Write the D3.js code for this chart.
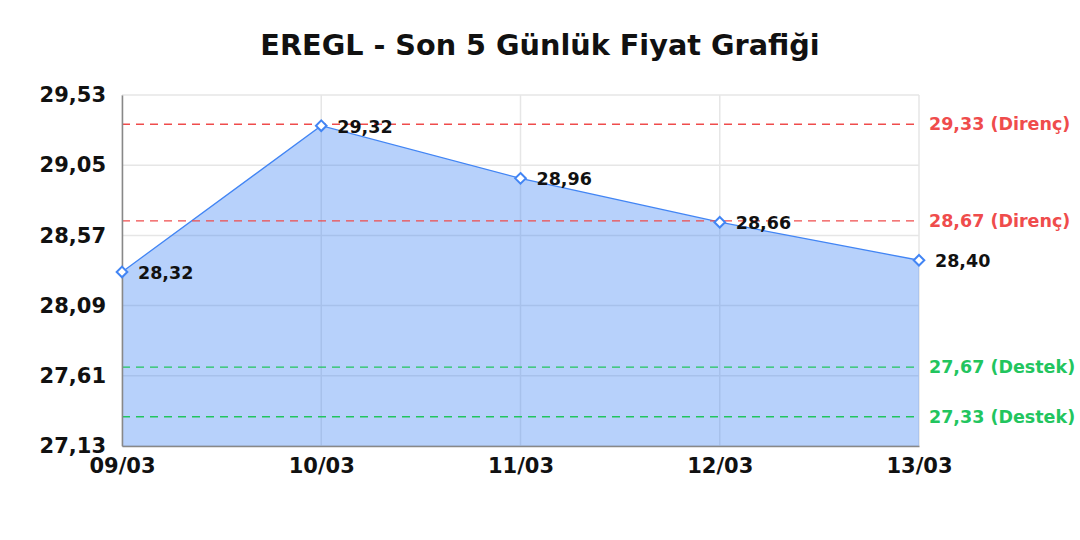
<!DOCTYPE html>
<html>
<head>
<meta charset="utf-8">
<script src="https://cdn.jsdelivr.net/npm/d3@7"></script>
<style>
  body { margin: 0; background: #fff; }
  text { font-family: "DejaVu Sans", sans-serif; font-weight: bold; }
</style>
</head>
<body>
<div id="chart"></div>
<script>
// data
const dates = ["09/03", "10/03", "11/03", "12/03", "13/03"];
const prices = [28.32, 29.32, 28.96, 28.66, 28.40];
const yTicks = [27.13, 27.61, 28.09, 28.57, 29.05, 29.53];
const resistance = [29.33, 28.67];
const support = [27.67, 27.33];

const fmt = v => v.toFixed(2).replace(".", ",");

const W = 1080, H = 540;
const margin = { top: 95, right: 161, bottom: 94, left: 122 };
const width = W - margin.left - margin.right,
    height = H - margin.top - margin.bottom;

const svg = d3.select("#chart").append("svg")
    .attr("width", W)
    .attr("height", H);

svg.append("text")
    .attr("x", W / 2)
    .attr("y", 55)
    .attr("text-anchor", "middle")
    .style("font-size", "28.7px")
    .attr("fill", "#111")
    .text("EREGL - Son 5 Günlük Fiyat Grafiği");

const g = svg.append("g")
    .attr("transform", "translate(" + margin.left + "," + margin.top + ")");

// scales
const x = d3.scalePoint().domain(dates).range([0, width]);
const y = d3.scaleLinear().domain([27.13, 29.53]).range([height, 0]);

// grid
g.selectAll(".hgrid").data(yTicks).enter()
    .append("line").attr("class", "hgrid")
    .attr("x1", 0).attr("x2", width)
    .attr("y1", d => y(d)).attr("y2", d => y(d))
    .attr("stroke", "#e6e6e6").attr("stroke-width", 1.5);

g.selectAll(".vgrid").data(dates).enter()
    .append("line").attr("class", "vgrid")
    .attr("x1", d => x(d)).attr("x2", d => x(d))
    .attr("y1", 0).attr("y2", height)
    .attr("stroke", "#e6e6e6").attr("stroke-width", 1.5);

// area + line
const pts = dates.map((d, i) => ({ date: d, value: prices[i] }));

g.append("path").datum(pts)
    .attr("d", d3.area().x(d => x(d.date)).y0(height).y1(d => y(d.value)))
    .attr("fill", "rgba(66,133,244,0.38)");

g.append("path").datum(pts)
    .attr("d", d3.line().x(d => x(d.date)).y(d => y(d.value)))
    .attr("fill", "none")
    .attr("stroke", "#4285f4")
    .attr("stroke-width", 1.3);

// support / resistance lines
const levels = resistance.map(v => ({ v: v, label: "Direnç", color: "#ef4c4c" }))
    .concat(support.map(v => ({ v: v, label: "Destek", color: "#22c55e" })));

g.selectAll(".level").data(levels).enter()
    .append("line").attr("class", "level")
    .attr("x1", 0).attr("x2", width)
    .attr("y1", d => y(d.v)).attr("y2", d => y(d.v))
    .attr("stroke", d => d.color)
    .attr("stroke-width", 1.3)
    .attr("stroke-dasharray", "8,6");

g.selectAll(".level-label").data(levels).enter()
    .append("text").attr("class", "level-label")
    .attr("x", width + 10)
    .attr("y", d => y(d.v) + 6)
    .style("font-size", "17.5px")
    .attr("fill", d => d.color)
    .text(d => fmt(d.v) + " (" + d.label + ")");

// axes
const yAxis = d3.axisLeft(y).tickValues(yTicks).tickFormat(fmt).tickSize(0).tickPadding(16);
const xAxis = d3.axisBottom(x).tickSize(0).tickPadding(12);

g.append("g").attr("class", "y-axis").call(yAxis)
    .call(a => a.select(".domain").attr("stroke", "#888").attr("stroke-width", 1.5))
    .selectAll("text").style("font-size", "21px").attr("fill", "#111");

g.append("g").attr("class", "x-axis")
    .attr("transform", "translate(0," + height + ")")
    .call(xAxis)
    .call(a => a.select(".domain").attr("stroke", "#888").attr("stroke-width", 1.5))
    .selectAll("text").style("font-size", "21px").attr("fill", "#111");

// markers
g.selectAll(".marker").data(pts).enter()
    .append("path").attr("class", "marker")
    .attr("d", d3.symbol().type(d3.symbolDiamond2).size(72))
    .attr("transform", d => "translate(" + x(d.date) + "," + y(d.value) + ")")
    .attr("fill", "#fff")
    .attr("stroke", "#4285f4")
    .attr("stroke-width", 2);

g.selectAll(".point-label").data(pts).enter()
    .append("text").attr("class", "point-label")
    .attr("x", d => x(d.date) + 16)
    .attr("y", d => y(d.value) + 7)
    .style("font-size", "17.5px")
    .attr("fill", "#111")
    .text(d => fmt(d.value));
</script>
</body>
</html>
